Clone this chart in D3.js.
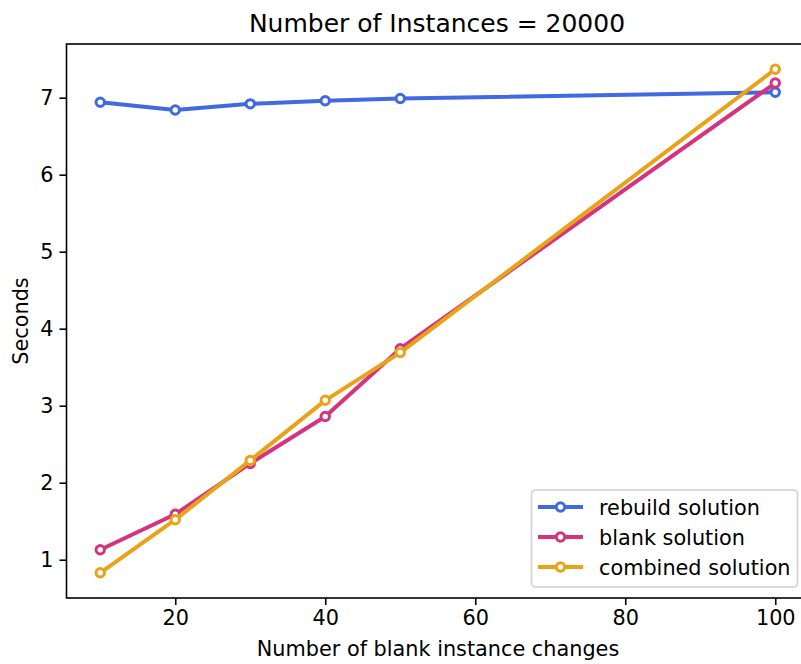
<!doctype html>
<html>
<head>
<meta charset="utf-8">
<script src="https://cdn.jsdelivr.net/npm/d3@7"></script>
<style>
  body { margin: 0; background: #fff; }
  text { font-family: "DejaVu Sans", sans-serif; fill: #000; }
</style>
</head>
<body>
<div id="chart"></div>
<script>
// data
var changes = [10, 20, 30, 40, 50, 100];
var rebuild = [6.94, 6.84, 6.92, 6.96, 6.99, 7.07];
var blank = [1.13, 1.59, 2.25, 2.86, 3.74, 7.19];
var combined = [0.83, 1.52, 2.29, 3.07, 3.69, 7.37];
var seriesNames = ["rebuild solution", "blank solution", "combined solution"];
var seriesColors = ["#4169e1", "#d6337f", "#e8a317"];
var xTicks = [20, 40, 60, 80, 100];
var yTicks = [1, 2, 3, 4, 5, 6, 7];

var W = 801, H = 664;
// plot box (note: "top" is reserved on window, so use other names)
var plotL = 66.5, plotT = 44, plotB = 598, plotR = 809;

var svg = d3.select("#chart").append("svg")
    .attr("width", W)
    .attr("height", H);

var x = d3.scaleLinear().domain([5.5, 104.5]).range([plotL, plotR]);
var y = d3.scaleLinear().domain([0.503, 7.697]).range([plotB, plotT]);

// axes
var xAxis = svg.append("g")
    .attr("transform", "translate(0," + plotB + ")")
    .call(d3.axisBottom(x).tickValues(xTicks).tickSize(7).tickPadding(5));
var yAxis = svg.append("g")
    .attr("transform", "translate(" + plotL + ",0)")
    .call(d3.axisLeft(y).tickValues(yTicks).tickSize(7).tickPadding(6));

[xAxis, yAxis].forEach(function(a) {
    a.select(".domain").remove();
    a.selectAll("line").attr("stroke", "#000").attr("stroke-width", 1.6);
    a.selectAll("text").attr("font-size", "20.8px").attr("font-family", "DejaVu Sans");
});

// frame
svg.append("rect")
    .attr("x", plotL).attr("y", plotT)
    .attr("width", plotR - plotL).attr("height", plotB - plotT)
    .attr("fill", "none")
    .attr("stroke", "#000")
    .attr("stroke-width", 1.6);

// lines
var allSeries = [rebuild, blank, combined];
var line = d3.line()
    .x(function(d, i) { return x(changes[i]); })
    .y(function(d) { return y(d); });

allSeries.forEach(function(s, k) {
    svg.append("path")
        .datum(s)
        .attr("d", line)
        .attr("fill", "none")
        .attr("stroke", seriesColors[k])
        .attr("stroke-width", 4)
        .attr("stroke-linejoin", "round");
    svg.append("g").selectAll("circle")
        .data(s)
        .join("circle")
        .attr("cx", function(d, i) { return x(changes[i]); })
        .attr("cy", function(d) { return y(d); })
        .attr("r", 4.2)
        .attr("fill", "#fff")
        .attr("stroke", seriesColors[k])
        .attr("stroke-width", 3);
});

// title and labels
svg.append("text")
    .attr("x", 437)
    .attr("y", 32)
    .attr("text-anchor", "middle")
    .attr("font-size", "25px")
    .text("Number of Instances = 20000");

svg.append("text")
    .attr("x", 438)
    .attr("y", 656)
    .attr("text-anchor", "middle")
    .attr("font-size", "20.8px")
    .text("Number of blank instance changes");

svg.append("text")
    .attr("transform", "translate(27.5," + ((plotT + plotB) / 2) + ") rotate(-90)")
    .attr("text-anchor", "middle")
    .attr("font-size", "20.8px")
    .text("Seconds");

// legend
var legend = svg.append("g");
legend.append("rect")
    .attr("x", 531.5).attr("y", 490)
    .attr("width", 266).attr("height", 97)
    .attr("rx", 4)
    .attr("fill", "#fff")
    .attr("fill-opacity", 0.8)
    .attr("stroke", "#d0d0d0")
    .attr("stroke-width", 1.6);

seriesNames.forEach(function(name, k) {
    var ly = 507 + k * 30;
    legend.append("line")
        .attr("x1", 538).attr("x2", 583)
        .attr("y1", ly).attr("y2", ly)
        .attr("stroke", seriesColors[k])
        .attr("stroke-width", 4);
    legend.append("circle")
        .attr("cx", 560.5).attr("cy", ly)
        .attr("r", 4.2)
        .attr("fill", "#fff")
        .attr("stroke", seriesColors[k])
        .attr("stroke-width", 3);
    legend.append("text")
        .attr("x", 599)
        .attr("y", ly + 7.5)
        .attr("font-size", "20.8px")
        .text(name);
});
</script>
</body>
</html>
